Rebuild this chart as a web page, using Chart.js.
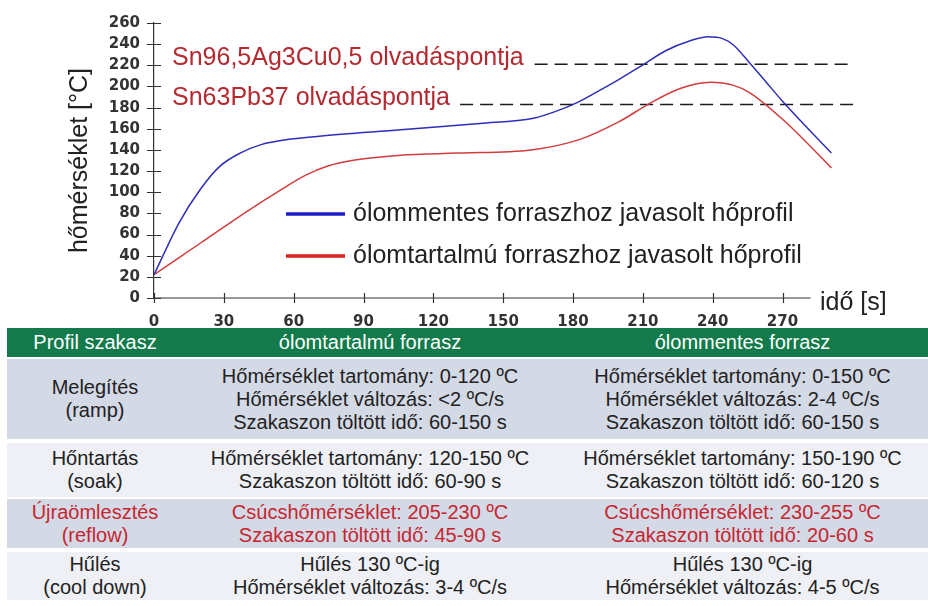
<!DOCTYPE html>
<html>
<head>
<meta charset="utf-8">
<script src="https://cdn.jsdelivr.net/npm/chart.js@4.4.0/dist/chart.umd.min.js"></script>
<style>
  body { margin: 0; background: #fff; width: 928px; height: 606px; overflow: hidden; font-family: "Liberation Sans", Arial, sans-serif; }
  #wrap { position: absolute; left: 0; top: 0; width: 928px; height: 328px; }
  #tbl { position: absolute; left: 7px; top: 328px; width: 921px; }
  .row { display: flex; color: #222; font-size: 20px; line-height: 23px; }
  .row > div { display: flex; flex-direction: column; justify-content: center; align-items: center; text-align: center; }
  .c1 { width: 176px; } .c2 { width: 374px; } .c3 { width: 371px; }
  .hd { background: #127a4b; color: #fff; height: 29px; }
  .dk { background: #d4d9e6; }
  .lt { background: #eef0f5; }
  .red { color: #c62630; }
</style>
</head>
<body>
<div id="wrap"><canvas id="profileChart" width="928" height="328"></canvas></div>

<div id="tbl">
  <div class="row hd"><div class="c1">Profil szakasz</div><div class="c2">ólomtartalmú forrasz</div><div class="c3">ólommentes forrasz</div></div>
  <div class="row dk" style="margin-top:2px;height:80px">
    <div class="c1">Melegítés<br>(ramp)</div>
    <div class="c2">Hőmérséklet tartomány: 0-120 ºC<br>Hőmérséklet változás: &lt;2 ºC/s<br>Szakaszon töltött idő: 60-150 s</div>
    <div class="c3">Hőmérséklet tartomány: 0-150 ºC<br>Hőmérséklet változás: 2-4 ºC/s<br>Szakaszon töltött idő: 60-150 s</div>
  </div>
  <div class="row lt" style="margin-top:4px;height:54px">
    <div class="c1">Hőntartás<br>(soak)</div>
    <div class="c2">Hőmérséklet tartomány: 120-150 ºC<br>Szakaszon töltött idő: 60-90 s</div>
    <div class="c3">Hőmérséklet tartomány: 150-190 ºC<br>Szakaszon töltött idő: 60-120 s</div>
  </div>
  <div class="row dk red" style="margin-top:2px;height:49px">
    <div class="c1">Újraömlesztés<br>(reflow)</div>
    <div class="c2">Csúcshőmérséklet: 205-230 ºC<br>Szakaszon töltött idő: 45-90 s</div>
    <div class="c3">Csúcshőmérséklet: 230-255 ºC<br>Szakaszon töltött idő: 20-60 s</div>
  </div>
  <div class="row lt" style="margin-top:4px;height:48px">
    <div class="c1">Hűlés<br>(cool down)</div>
    <div class="c2">Hűlés 130 ºC-ig<br>Hőmérséklet változás: 3-4 ºC/s</div>
    <div class="c3">Hűlés 130 ºC-ig<br>Hőmérséklet változás: 4-5 ºC/s</div>
  </div>
</div>

<script>
// lead-free profile (blue)
const timeBlue = [0, 11, 20, 28, 37, 46, 58, 71, 106, 140, 163, 172, 182, 192, 200, 209, 220, 230, 238, 244, 249, 256, 263, 270, 281, 291];
const tempBlue = [22, 72, 103, 124, 137, 145, 150, 153, 159, 165, 170, 176, 185, 197, 207, 219, 234, 243, 247, 245.5, 239, 222, 204, 186, 160, 137];

// leaded profile (red)
const timeRed = [0, 20, 40, 55, 65, 75, 85, 106, 130, 162, 183, 200, 213, 226, 239, 249, 256, 272, 291];
const tempRed = [22, 52, 82, 103, 116, 125, 130, 135, 137, 140, 150, 167, 184, 198, 204, 201, 194, 165, 123];

// melting points (dashed lines)
const sacMelt = [[163.5, 221], [299, 221]];
const snpbMelt = [[131.5, 183], [303, 183]];

const xTicks = [0, 30, 60, 90, 120, 150, 180, 210, 240, 270];
const yTicks = [0, 20, 40, 60, 80, 100, 120, 140, 160, 180, 200, 220, 240, 260];

const toPts = (xs, ys) => xs.map((x, i) => ({ x: x, y: ys[i] }));
const pairPts = arr => arr.map(p => ({ x: p[0], y: p[1] }));

const tickFont = { family: "DejaVu Sans", size: 15, weight: "bold" };

// axis crosses, x axis line and the text on the plot
const decorations = {
  id: "decorations",
  afterDraw(chart) {
    const { ctx, scales: { x, y } } = chart;
    const x0 = x.getPixelForValue(0);
    const yb = y.getPixelForValue(0);
    ctx.save();
    ctx.strokeStyle = "#333";
    ctx.lineWidth = 1.2;
    ctx.beginPath();
    ctx.moveTo(x0, yb);
    ctx.lineTo(x.getPixelForValue(282), yb);
    yTicks.forEach(v => {
      const py = Math.round(y.getPixelForValue(v)) + 0.5;
      ctx.moveTo(x0 - 7, py);
      ctx.lineTo(x0 + 7, py);
    });
    xTicks.forEach(v => {
      const px = Math.round(x.getPixelForValue(v)) + 0.5;
      ctx.moveTo(px, yb + 5);
      ctx.lineTo(px, yb - 5);
    });
    ctx.stroke();

    ctx.font = "25px 'Liberation Sans', Arial, sans-serif";
    ctx.textBaseline = "alphabetic";
    ctx.fillStyle = "#b52a30";
    ctx.fillText("Sn96,5Ag3Cu0,5 olvadáspontja", 172, 65);
    ctx.fillText("Sn63Pb37 olvadáspontja", 172, 105);

    ctx.lineWidth = 3.5;
    ctx.strokeStyle = "#1c1cc8";
    ctx.beginPath(); ctx.moveTo(286, 214); ctx.lineTo(345, 214); ctx.stroke();
    ctx.strokeStyle = "#dd1f1f";
    ctx.beginPath(); ctx.moveTo(286, 256); ctx.lineTo(345, 256); ctx.stroke();

    ctx.fillStyle = "#222";
    ctx.fillText("ólommentes forraszhoz javasolt hőprofil", 353, 221);
    ctx.fillText("ólomtartalmú forraszhoz javasolt hőprofil", 353, 263);
    ctx.fillText("idő [s]", 820, 310);
    ctx.restore();
  }
};

new Chart(document.getElementById("profileChart"), {
  type: "line",
  data: {
    datasets: [
      { label: "ólommentes", data: toPts(timeBlue, tempBlue), borderColor: "#2e2eb8", borderWidth: 1.5, pointRadius: 0, cubicInterpolationMode: "monotone" },
      { label: "ólomtartalmú", data: toPts(timeRed, tempRed), borderColor: "#d23c3c", borderWidth: 1.5, pointRadius: 0, cubicInterpolationMode: "monotone" },
      { label: "Sn96,5Ag3Cu0,5", data: pairPts(sacMelt), borderColor: "#1a1a1a", borderWidth: 1.4, borderDash: [13, 7], pointRadius: 0 },
      { label: "Sn63Pb37", data: pairPts(snpbMelt), borderColor: "#1a1a1a", borderWidth: 1.4, borderDash: [13, 7], pointRadius: 0 }
    ]
  },
  options: {
    responsive: false,
    animation: false,
    layout: { padding: { left: 61, right: 64, top: 18, bottom: 0 } },
    plugins: { legend: { display: false }, tooltip: { enabled: false } },
    scales: {
      x: {
        type: "linear",
        min: 0,
        max: 305,
        afterBuildTicks: s => { s.ticks = xTicks.map(v => ({ value: v })); },
        afterFit: s => { s.height = 30; },
        border: { display: false },
        grid: { drawOnChartArea: false, drawTicks: false, tickLength: 5 },
        ticks: { padding: 15, font: tickFont, color: "#333", maxRotation: 0, autoSkip: false }
      },
      y: {
        min: 0,
        max: 260,
        afterBuildTicks: s => { s.ticks = yTicks.map(v => ({ value: v })); },
        afterFit: s => { s.width = 93; },
        border: { color: "#333", width: 1.2 },
        grid: { drawOnChartArea: false, drawTicks: false, tickLength: 7 },
        ticks: { padding: 14, font: tickFont, color: "#333", autoSkip: false },
        title: { display: true, text: "hőmérséklet [°C]", color: "#222", font: { family: "Liberation Sans", size: 25 }, padding: { top: 4, bottom: 0 } }
      }
    }
  },
  plugins: [decorations]
});
</script>
</body>
</html>
